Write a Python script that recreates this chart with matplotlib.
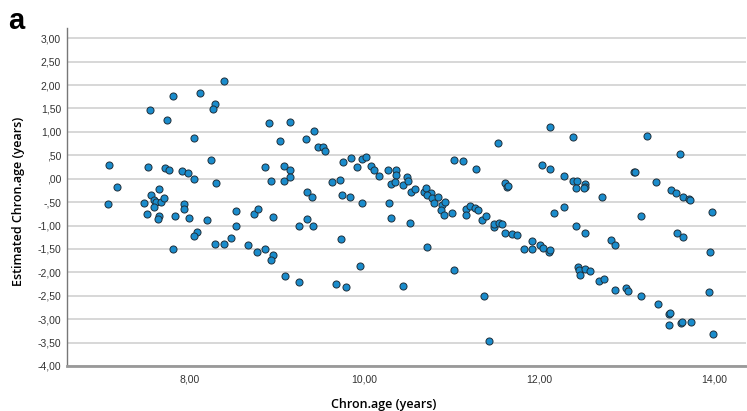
import matplotlib
matplotlib.use("Agg")
import matplotlib.pyplot as plt
from matplotlib.ticker import FuncFormatter

# Chronological age (x) and estimated-minus-chronological age (y)
chron_age = [
    7.08, 7.17, 7.07, 7.55, 7.81, 7.75, 8.12, 8.40, 8.29, 8.27,
    8.06, 8.25, 7.53, 7.72, 7.77, 7.92, 7.99, 8.06, 8.31, 7.65,
    7.56, 7.48, 7.60, 7.62, 7.68, 7.71, 7.60, 7.52, 7.66, 7.64,
    7.84, 7.94, 7.94, 8.00, 8.20, 8.09, 8.05, 7.82, 8.29, 8.40,
    8.48, 8.53, 8.53, 8.67, 8.77, 8.87, 8.96, 8.94, 8.74, 8.79,
    8.96, 9.10, 9.26, 9.25, 8.91, 9.15, 9.04, 8.87, 9.08, 9.15,
    8.94, 9.08, 9.15, 9.34, 9.43, 9.47, 9.53, 9.55, 9.35, 9.40,
    9.35, 9.42, 9.63, 9.72, 9.76, 9.85, 9.92, 9.98, 10.02, 10.08,
    10.11, 10.17, 10.27, 10.37, 10.37, 10.31, 10.35, 10.45, 10.49, 10.50,
    10.54, 10.58, 9.75, 9.84, 9.98, 10.28, 10.31, 10.52, 9.73, 9.95,
    9.68, 9.79, 10.45, 10.68, 10.71, 10.76, 10.72, 10.78, 10.85, 10.80,
    10.89, 10.93, 10.88, 10.91, 11.01, 10.72, 11.03, 11.13, 11.28, 11.03,
    11.17, 11.16, 11.21, 11.27, 11.30, 11.35, 11.39, 11.48, 11.49, 11.54,
    11.37, 11.43, 11.53, 11.58, 11.61, 11.69, 11.75, 11.83, 11.92, 11.92,
    12.01, 12.05, 12.11, 12.13, 11.61, 11.63, 11.65, 12.12, 12.03, 12.12,
    12.17, 12.29, 12.29, 12.39, 12.39, 12.43, 12.42, 12.52, 12.53, 12.51,
    12.72, 12.42, 12.53, 12.45, 12.46, 12.47, 12.53, 12.58, 12.69, 12.74,
    12.82, 12.87, 12.87, 12.99, 13.02, 13.17, 13.08, 13.10, 13.16, 13.23,
    13.34, 13.51, 13.57, 13.65, 13.71, 13.73, 13.61, 13.58, 13.65, 13.36,
    13.48, 13.50, 13.49, 13.62, 13.63, 13.74, 13.98, 13.95, 13.94, 13.99,
]
est_diff = [
    0.29, -0.17, -0.53, 1.46, 1.77, 1.26, 1.83, 2.08, 1.60, 1.49,
    0.86, 0.40, 0.26, 0.23, 0.19, 0.16, 0.12, 0.00, -0.09, -0.22,
    -0.35, -0.52, -0.46, -0.49, -0.50, -0.42, -0.60, -0.76, -0.80, -0.85,
    -0.79, -0.54, -0.65, -0.84, -0.89, -1.14, -1.22, -1.51, -1.39, -1.39,
    -1.27, -0.69, -1.01, -1.41, -1.56, -1.50, -1.62, -1.73, -0.75, -0.64,
    -0.82, -2.07, -2.20, -1.01, 1.18, 1.22, 0.80, 0.25, 0.27, 0.18,
    -0.05, -0.05, 0.03, 0.84, 1.02, 0.68, 0.68, 0.60, -0.29, -0.40,
    -0.87, -1.01, -0.08, -0.03, 0.35, 0.44, 0.25, 0.42, 0.46, 0.28,
    0.18, 0.05, 0.18, 0.18, 0.07, -0.12, -0.08, -0.13, 0.03, -0.05,
    -0.29, -0.21, -0.35, -0.38, -0.52, -0.52, -0.84, -0.94, -1.29, -1.87,
    -2.25, -2.31, -2.30, -0.29, -0.20, -0.31, -0.35, -0.42, -0.40, -0.51,
    -0.57, -0.50, -0.67, -0.77, -0.74, -1.46, 0.41, 0.38, 0.20, -1.95,
    -0.65, -0.77, -0.58, -0.62, -0.67, -0.89, -0.79, -1.04, -0.96, -0.95,
    -2.51, -3.47, 0.76, -0.96, -1.15, -1.19, -1.20, -1.51, -1.34, -1.51,
    -1.42, -1.47, -1.56, -1.53, -0.10, -0.18, -0.15, 1.10, 0.30, 0.20,
    -0.74, -0.61, 0.05, 0.90, -0.05, -0.04, -0.19, -0.12, -0.18, -0.20,
    -0.40, -1.02, -1.15, -1.88, -1.96, -2.06, -1.93, -1.98, -2.18, -2.15,
    -1.31, -1.41, -2.38, -2.34, -2.40, -2.50, 0.15, 0.15, -0.79, 0.91,
    -0.07, -0.24, -0.30, -0.40, -0.44, -0.45, 0.52, -1.17, -1.25, -2.68,
    -2.88, -2.86, -3.13, -3.09, -3.05, -3.07, -0.71, -1.56, -2.42, -3.32,
]

x_ticks = [8, 10, 12, 14]
y_ticks = [3.0, 2.5, 2.0, 1.5, 1.0, 0.5, 0.0, -0.5, -1.0, -1.5, -2.0, -2.5, -3.0, -3.5, -4.0]


def spss_fmt(v, pos=None):
    # SPSS style: comma decimal, no leading zero
    s = "%.2f" % abs(v)
    if s.startswith("0"):
        s = s[1:]
    s = s.replace(".", ",")
    return ("-" + s) if v < -1e-9 else s


fig = plt.figure(figsize=(7.47, 4.11), dpi=100)
ax = fig.add_axes([0.0893, 0.1095, 0.9087, 0.8225])

ax.scatter(chron_age, est_diff, s=26, c="#1a8ccc", edgecolors="#1f2f3a",
           linewidths=0.7, zorder=3)

ax.set_xlim(6.60, 14.36)
ax.set_ylim(-4.0, 3.22)
ax.set_xticks(x_ticks)
ax.set_yticks(y_ticks)
ax.xaxis.set_major_formatter(FuncFormatter(spss_fmt))
ax.yaxis.set_major_formatter(FuncFormatter(spss_fmt))
ax.tick_params(axis="both", length=0, labelsize=7.5, colors="#333333",
               labelfontfamily="Liberation Sans")
ax.tick_params(axis="y", pad=4)
ax.tick_params(axis="x", pad=6)

ax.grid(axis="y", color="#d4d4d4", linewidth=1.3, zorder=0)
ax.set_axisbelow(True)
for side in ["top", "right"]:
    ax.spines[side].set_visible(False)
ax.spines["left"].set_color("#777777")
ax.spines["left"].set_linewidth(1.0)
ax.spines["bottom"].set_color("#999999")
ax.spines["bottom"].set_linewidth(2.0)

ax.set_xlabel("Chron.age (years)", fontsize=9, fontfamily="Open Sans",
              fontweight="semibold")
ax.set_ylabel("Estimated Chron.age (years)", fontsize=9, fontfamily="Open Sans",
              fontweight="semibold")
ax.xaxis.set_label_coords(0.467, -0.095)
ax.yaxis.set_label_coords(-0.062, 0.488)

fig.text(0.011, 0.93, "a", fontsize=21, fontweight="bold",
         fontfamily="Liberation Sans", va="baseline")

fig.savefig("out.png", dpi=100)
